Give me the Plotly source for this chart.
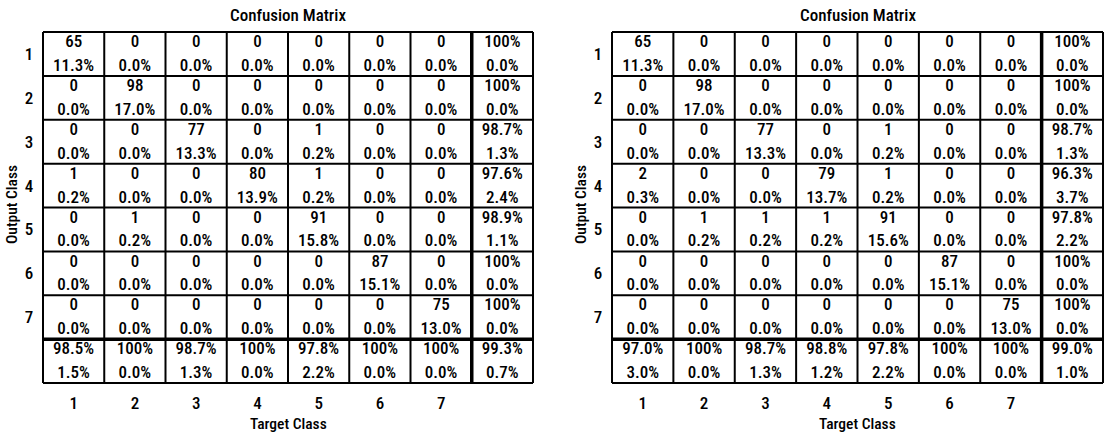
import plotly.graph_objects as go

# Class labels along both axes
TARGET_CLASSES = ["1", "2", "3", "4", "5", "6", "7"]
OUTPUT_CLASSES = ["1", "2", "3", "4", "5", "6", "7"]

# ---- Matrix A ----
counts_a = [
    [65, 0, 0, 0, 0, 0, 0],
    [0, 98, 0, 0, 0, 0, 0],
    [0, 0, 77, 0, 1, 0, 0],
    [1, 0, 0, 80, 1, 0, 0],
    [0, 1, 0, 0, 91, 0, 0],
    [0, 0, 0, 0, 0, 87, 0],
    [0, 0, 0, 0, 0, 0, 75],
]
share_a = [
    [11.3, 0.0, 0.0, 0.0, 0.0, 0.0, 0.0],
    [0.0, 17.0, 0.0, 0.0, 0.0, 0.0, 0.0],
    [0.0, 0.0, 13.3, 0.0, 0.2, 0.0, 0.0],
    [0.2, 0.0, 0.0, 13.9, 0.2, 0.0, 0.0],
    [0.0, 0.2, 0.0, 0.0, 15.8, 0.0, 0.0],
    [0.0, 0.0, 0.0, 0.0, 0.0, 15.1, 0.0],
    [0.0, 0.0, 0.0, 0.0, 0.0, 0.0, 13.0],
]
row_ok_a = [100, 100, 98.7, 97.6, 98.9, 100, 100]
row_err_a = [0.0, 0.0, 1.3, 2.4, 1.1, 0.0, 0.0]
col_ok_a = [98.5, 100, 98.7, 100, 97.8, 100, 100]
col_err_a = [1.5, 0.0, 1.3, 0.0, 2.2, 0.0, 0.0]
total_ok_a = 99.3
total_err_a = 0.7

# ---- Matrix B ----
counts_b = [
    [65, 0, 0, 0, 0, 0, 0],
    [0, 98, 0, 0, 0, 0, 0],
    [0, 0, 77, 0, 1, 0, 0],
    [2, 0, 0, 79, 1, 0, 0],
    [0, 1, 1, 1, 91, 0, 0],
    [0, 0, 0, 0, 0, 87, 0],
    [0, 0, 0, 0, 0, 0, 75],
]
share_b = [
    [11.3, 0.0, 0.0, 0.0, 0.0, 0.0, 0.0],
    [0.0, 17.0, 0.0, 0.0, 0.0, 0.0, 0.0],
    [0.0, 0.0, 13.3, 0.0, 0.2, 0.0, 0.0],
    [0.3, 0.0, 0.0, 13.7, 0.2, 0.0, 0.0],
    [0.0, 0.2, 0.2, 0.2, 15.6, 0.0, 0.0],
    [0.0, 0.0, 0.0, 0.0, 0.0, 15.1, 0.0],
    [0.0, 0.0, 0.0, 0.0, 0.0, 0.0, 13.0],
]
row_ok_b = [100, 100, 98.7, 96.3, 97.8, 100, 100]
row_err_b = [0.0, 0.0, 1.3, 3.7, 2.2, 0.0, 0.0]
col_ok_b = [97.0, 100, 98.7, 98.8, 97.8, 100, 100]
col_err_b = [3.0, 0.0, 1.3, 1.2, 2.2, 0.0, 0.0]
total_ok_b = 99.0
total_err_b = 1.0

W, H = 1109, 436
FAMILY = "Roboto Condensed, Roboto, sans-serif"
CELL_FONT = dict(family=FAMILY, size=17, weight=500, color="black")
TICK_FONT = dict(family=FAMILY, size=17, weight=500, color="black")
TITLE_FONT = dict(family=FAMILY, size=17, weight=500, color="black")
LABEL_FONT = dict(family=FAMILY, size=15.5, weight=500, color="black")
PAD = 0.04         # axis padding so border lines are not clipped
GRID_TOP, GRID_BOT = 32, 383
PANELS = [(43, 533), (612, 1103)]
N = 8


def pct(v):
    return "100%" if v == 100 else f"{v:.1f}%"


def cell_texts(counts, share, row_ok, row_err, col_ok, col_err, tot_ok, tot_err):
    xs, ys, top, bot = [], [], [], []
    for r in range(N):
        for c in range(N):
            if r < 7 and c < 7:
                t, b = str(counts[r][c]), pct(share[r][c])
            elif r < 7:
                t, b = pct(row_ok[r]), pct(row_err[r])
            elif c < 7:
                t, b = pct(col_ok[c]), pct(col_err[c])
            else:
                t, b = pct(tot_ok), pct(tot_err)
            xs.append(c + 0.5)
            ys.append(r)
            top.append(t)
            bot.append(b)
    return xs, ys, top, bot


fig = go.Figure()
layout_shapes = []
annotations = []

datasets = [
    (counts_a, share_a, row_ok_a, row_err_a, col_ok_a, col_err_a, total_ok_a, total_err_a),
    (counts_b, share_b, row_ok_b, row_err_b, col_ok_b, col_err_b, total_ok_b, total_err_b),
]

for i, (data, (px0, px1)) in enumerate(zip(datasets, PANELS)):
    ax = "" if i == 0 else "2"
    xref, yref = "x" + ax, "y" + ax
    xs, ys, top, bot = cell_texts(*data)
    fig.add_trace(go.Scatter(
        x=xs, y=[y + 0.25 for y in ys], text=top, mode="text",
        textposition="middle center", textfont=CELL_FONT,
        xaxis=xref, yaxis=yref, showlegend=False, hoverinfo="skip"))
    fig.add_trace(go.Scatter(
        x=xs, y=[y + 0.79 for y in ys], text=bot, mode="text",
        textposition="middle center", textfont=CELL_FONT,
        xaxis=xref, yaxis=yref, showlegend=False, hoverinfo="skip"))

    # grid lines, with heavier separators before the summary row / column
    for k in range(N + 1):
        w = 3.5 if k == 7 else 2
        layout_shapes.append(dict(type="line", xref=xref, yref=yref, x0=k, x1=k, y0=0, y1=N,
                                  line=dict(color="black", width=w)))
        layout_shapes.append(dict(type="line", xref=xref, yref=yref, x0=0, x1=N, y0=k, y1=k,
                                  line=dict(color="black", width=w)))

    unit_x = (px1 - px0) / N
    unit_y = (GRID_BOT - GRID_TOP) / N
    dom_x = [max(0.0, (px0 - PAD * unit_x) / W), min(1.0, (px1 + PAD * unit_x) / W)]
    dom_y = [1 - (GRID_BOT + PAD * unit_y) / H, 1 - (GRID_TOP - PAD * unit_y) / H]

    xaxis = dict(domain=dom_x, range=[-PAD, N + PAD], tickvals=[c + 0.5 for c in range(7)],
                 ticktext=TARGET_CLASSES, showgrid=False, zeroline=False, showline=False,
                 ticks="outside", ticklen=3, tickcolor="rgba(0,0,0,0)",
                 tickfont=TICK_FONT, anchor=yref, fixedrange=True)
    yaxis = dict(domain=dom_y, range=[N + PAD, -PAD], tickvals=[r + 0.5 for r in range(7)],
                 ticktext=OUTPUT_CLASSES, showgrid=False, zeroline=False, showline=False,
                 ticks="outside", ticklen=3, tickcolor="rgba(0,0,0,0)",
                 tickfont=TICK_FONT, anchor=xref, fixedrange=True)
    fig.update_layout(**{"xaxis" + ax: xaxis, "yaxis" + ax: yaxis})

    cx = (px0 + px1) / 2 / W
    annotations.append(dict(text="Confusion Matrix", x=cx, y=1 - 15 / H, xref="paper", yref="paper",
                            showarrow=False, xanchor="center", yanchor="middle", font=TITLE_FONT))
    annotations.append(dict(text="Target Class", x=cx, y=1 - 424 / H, xref="paper", yref="paper",
                            showarrow=False, xanchor="center", yanchor="middle", font=LABEL_FONT))
    annotations.append(dict(text="Output Class", x=(px0 - 31) / W, y=1 - 205 / H,
                            xref="paper", yref="paper", textangle=-90,
                            showarrow=False, xanchor="center", yanchor="middle", font=LABEL_FONT))

fig.update_layout(
    width=W, height=H, margin=dict(l=0, r=0, t=0, b=0),
    paper_bgcolor="white", plot_bgcolor="white",
    shapes=layout_shapes, annotations=annotations,
)

fig.write_html("out.html", config={"displayModeBar": False})
